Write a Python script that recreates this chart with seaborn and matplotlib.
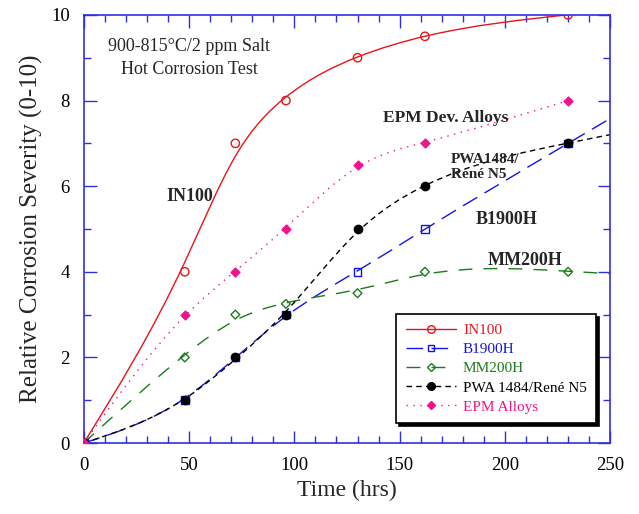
import numpy as np
import pandas as pd
import matplotlib
matplotlib.use('Agg')
import matplotlib.pyplot as plt
from matplotlib.path import Path
from matplotlib.patches import PathPatch
from matplotlib.ticker import MultipleLocator
import seaborn as sns

# data
tempo = [0, 48, 72, 96, 130, 162, 230]
in100 = [0, 4, 7, 8, 9, 9.5, 10]
b1900h = [0, 1, 2, 3, 4, 5, 7]
mm200h = [0, 2, 3, 3.25, 3.5, 4, 4]
pwa1484 = [0, 1, 2, 3, 5, 6, 7]
epm = [0, 3, 4, 5, 6.5, 7, 8]


def curva(xs, ys, lam=0.0, ate=None):
    # smoothing spline (Reinsch), drawn as bezier segments
    xs = np.asarray(xs, float)
    ys = np.asarray(ys, float)
    n = len(xs)
    h = np.diff(xs)
    Q = np.zeros((n, n - 2))
    R = np.zeros((n - 2, n - 2))
    for j in range(1, n - 1):
        Q[j - 1, j - 1] = 1 / h[j - 1]
        Q[j, j - 1] = -1 / h[j - 1] - 1 / h[j]
        Q[j + 1, j - 1] = 1 / h[j]
        R[j - 1, j - 1] = (h[j - 1] + h[j]) / 3
        if j < n - 2:
            R[j - 1, j] = R[j, j - 1] = h[j] / 6
    K = Q @ np.linalg.solve(R, Q.T)
    W = np.eye(n)
    W[0, 0] = 1e4
    g = np.linalg.solve(W + lam * K, W @ ys)
    M = np.zeros(n)
    M[1:-1] = np.linalg.solve(R, Q.T @ g)
    m = np.zeros(n)
    for i in range(n - 1):
        m[i] = (g[i + 1] - g[i]) / h[i] - h[i] * (2 * M[i] + M[i + 1]) / 6
    m[-1] = (g[-1] - g[-2]) / h[-1] + h[-1] * (M[-2] + 2 * M[-1]) / 6
    verts = [(xs[0], g[0])]
    codes = [Path.MOVETO]
    for i in range(n - 1):
        verts += [(xs[i] + h[i] / 3, g[i] + m[i] * h[i] / 3),
                  (xs[i + 1] - h[i] / 3, g[i + 1] - m[i + 1] * h[i] / 3),
                  (xs[i + 1], g[i + 1])]
        codes += [Path.CURVE4] * 3
    if ate is not None:
        verts.append((ate, g[-1] + m[-1] * (ate - xs[-1])))
        codes.append(Path.LINETO)
    return Path(verts, codes)


sns.set_style('ticks')
plt.rcParams['font.family'] = ['Liberation Serif', 'DejaVu Serif']

fig = plt.figure(figsize=(6.39, 5.14), dpi=100)
ax = fig.add_axes([0.131, 0.138, 0.824, 0.833])
ax.set_xlim(0, 250)
ax.set_ylim(0, 10)

series = [
    ('IN100', in100, '#e81418', '-', 'o', 'none', 6, 1200, None),
    ('B1900H', b1900h, '#1414e6', (0, (12, 6)), 's', 'none', 5.5, 1000, 250),
    ('MM200H', mm200h, '#1e7a1e', (0, (10, 8)), 'D', 'none', 4.5, 2500, 250),
    ('PWA 1484/René N5', pwa1484, 'black', (0, (4, 3)), 'o', 'black', 6, 1000, 250),
    ('EPM Alloys', epm, '#f0148c', (0, (1, 4)), 'D', '#f0148c', 4.5, 700, None),
]

handles = []
for nome, vals, cor, estilo, marc, face, ms, lam, ate in series:
    df = pd.DataFrame({'t': tempo, 'v': vals})
    ax.add_patch(PathPatch(curva(df.t, df.v, lam, ate), fill=False, edgecolor=cor,
                           lw=1, linestyle=estilo, transform=ax.transData))
    sns.scatterplot(data=df, x='t', y='v', marker=marc, s=ms ** 2,
                    facecolor=face, edgecolor=cor, linewidth=1, zorder=5,
                    ax=ax, legend=False)
    h, = ax.plot([], [], color=cor, lw=1, linestyle=estilo, marker=marc,
                 ms=ms - 0.5, mfc=face, mec=cor, mew=1)
    handles.append(h)

leg = ax.legend(handles, [s[0] for s in series], loc='lower left',
                bbox_to_anchor=(0.594, 0.047), borderaxespad=0, fontsize=11,
                frameon=True, fancybox=False,
                shadow={'color': 'black', 'alpha': 1},
                edgecolor='black', framealpha=1, borderpad=0.6,
                handlelength=3.3, handletextpad=0.45, labelspacing=0.36)
leg.get_frame().set_linewidth(1.2)
for txt, s in zip(leg.get_texts(), series):
    txt.set_color(s[2])

ax.text(50, 9.26, '900-815°C/2 ppm Salt', ha='center', va='center', fontsize=13)
ax.text(50, 8.72, 'Hot Corrosion Test', ha='center', va='center', fontsize=13)
ax.text(50.4, 5.77, 'IN100', ha='center', va='center', fontsize=13, fontweight='bold')
ax.text(172, 7.59, 'EPM Dev. Alloys', ha='center', va='center', fontsize=12.5, fontweight='bold')
ax.text(174.4, 6.45, 'PWA1484/\nRené N5', ha='left', va='center', fontsize=11,
        fontweight='bold', linespacing=1.15)
ax.text(201, 5.23, 'B1900H', ha='center', va='center', fontsize=13, fontweight='bold')
ax.text(209.6, 4.27, 'MM200H', ha='center', va='center', fontsize=13, fontweight='bold')

ax.set_xlabel('Time (hrs)', fontsize=17, labelpad=4)
ax.set_ylabel('Relative Corrosion Severity (0-10)', fontsize=18, labelpad=6)

azul = '#3030e0'
for sp in ax.spines.values():
    sp.set_color(azul)
    sp.set_linewidth(1.2)
ax.xaxis.set_major_locator(MultipleLocator(50))
ax.xaxis.set_minor_locator(MultipleLocator(10))
ax.yaxis.set_major_locator(MultipleLocator(2))
ax.yaxis.set_minor_locator(MultipleLocator(1))
ax.tick_params(which='both', direction='in', top=True, right=True, color=azul,
               labelsize=13.5, labelcolor='black', width=1)
ax.tick_params(which='major', length=9, pad=10)
ax.tick_params(which='minor', length=5)

fig.savefig('out.png', dpi=100)
